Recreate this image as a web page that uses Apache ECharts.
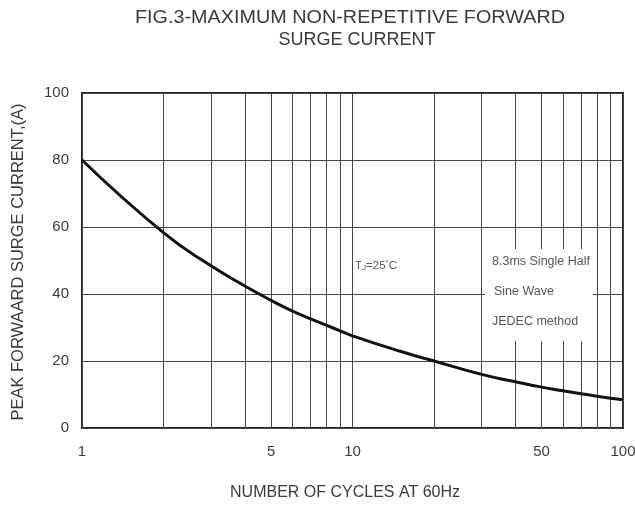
<!DOCTYPE html>
<html>
<head>
<meta charset="utf-8">
<script src="https://cdn.jsdelivr.net/npm/echarts@6/dist/echarts.min.js"></script>
<style>html,body{margin:0;padding:0;background:#fff}#c{width:635px;height:505px}</style>
</head>
<body>
<div id="c"></div>
<script>
// Data
var cycles = [1, 2, 3, 4, 5, 6, 7, 8, 9, 10, 15, 20, 30, 40, 50, 60, 70, 80, 90, 100];
var current = [80, 58.3, 48.4, 42.4, 38.1, 34.9, 32.6, 30.7, 29.0, 27.5, 22.9, 20.0, 16.0, 13.8, 12.2, 11.1, 10.2, 9.5, 8.9, 8.4];
var gridX = [1, 2, 3, 4, 5, 6, 7, 8, 9, 10, 20, 30, 40, 50, 60, 70, 80, 90, 100];
var labelX = [1, 5, 10, 50, 100];
var yTicks = [0, 20, 40, 60, 80, 100];
var titleLines = ['FIG.3-MAXIMUM NON-REPETITIVE FORWARD', 'SURGE CURRENT'];
var xName = 'NUMBER OF CYCLES AT 60Hz';
var yName = 'PEAK FORWAARD SURGE CURRENT,(A)';
var noteLines = ['8.3ms Single Half', 'Sine Wave', 'JEDEC method'];

var chart = echarts.init(document.getElementById('c'), null, {renderer: 'canvas'});
var FONT = 'Liberation Sans, Arial, sans-serif';
var TXT = '#3a3a3a';

var vLines = gridX.map(function (x) {
  var show = labelX.indexOf(x) >= 0;
  return [
    {coord: [x, 0], label: {show: show}},
    {coord: [x, 100]}
  ];
});

var option = {
  animation: false,
  backgroundColor: '#fff',
  grid: {left: 82, right: 12, top: 93, bottom: 77, show: true, borderColor: '#222', borderWidth: 2, backgroundColor: 'transparent'},
  xAxis: {
    type: 'log', logBase: 10, min: 1, max: 100,
    axisLine: {show: false}, axisTick: {show: false}, axisLabel: {show: false},
    splitLine: {show: false}
  },
  yAxis: {
    type: 'value', min: yTicks[0], max: yTicks[yTicks.length - 1], interval: 20,
    axisLine: {show: false}, axisTick: {show: false},
    axisLabel: {color: TXT, fontSize: 15, fontFamily: FONT, margin: 13},
    splitLine: {show: true, lineStyle: {color: '#444', width: 1}}
  },
  graphic: [
    {type: 'text', x: 350, y: 18, scaleX: 1.1, style: {text: titleLines[0], x: 0, y: 0, textAlign: 'center', textVerticalAlign: 'middle', font: '18px ' + FONT, fill: TXT}},
    {type: 'text', x: 357, y: 40, scaleX: 1.0, style: {text: titleLines[1], x: 0, y: 0, textAlign: 'center', textVerticalAlign: 'middle', font: '18px ' + FONT, fill: TXT}},
    {type: 'text', style: {text: xName, x: 345, y: 493, textAlign: 'center', textVerticalAlign: 'middle', font: '16px ' + FONT, fill: TXT}},
    {type: 'text', rotation: Math.PI / 2, x: 18, y: 262, style: {text: yName, x: 0, y: 0, textAlign: 'center', textVerticalAlign: 'middle', font: '16.5px ' + FONT, fill: TXT}},
    {type: 'rect', z: 50, shape: {x: 485, y: 249, width: 108, height: 92}, style: {fill: '#fff'}},
    {type: 'text', z: 51, style: {text: noteLines[0], x: 492, y: 262, textVerticalAlign: 'middle', font: '12.5px ' + FONT, fill: '#555'}},
    {type: 'text', z: 51, style: {text: noteLines[1], x: 494, y: 292, textVerticalAlign: 'middle', font: '12.5px ' + FONT, fill: '#555'}},
    {type: 'text', z: 51, style: {text: noteLines[2], x: 492, y: 322, textVerticalAlign: 'middle', font: '12.5px ' + FONT, fill: '#555'}},
    {type: 'text', z: 51, style: {
      text: 'T{s|J}=25{p|°}C', x: 355, y: 266, textVerticalAlign: 'middle', font: '11.5px ' + FONT, fill: '#555',
      rich: {s: {fontSize: 8, verticalAlign: 'bottom', padding: [4, 0, 0, 0], fill: '#555'}, p: {fontSize: 8, verticalAlign: 'top', padding: [0, 0, 4, 0]}}
    }}
  ],
  series: [
    {
      type: 'line', data: [], silent: true,
      markLine: {
        silent: true, symbol: ['none', 'none'], animation: false,
        lineStyle: {color: '#444', width: 1, type: 'solid'},
        label: {position: 'start', distance: 16, color: TXT, fontSize: 15, fontFamily: FONT, formatter: function (p) { return String(p.data.coord ? p.data.coord[0] : p.value); }},
        emphasis: {disabled: true},
        data: vLines
      }
    },
    {
      type: 'line', smooth: 0.5, showSymbol: false, z: 10,
      data: cycles.map(function (c, i) { return [c, current[i]]; }),
      lineStyle: {color: '#111', width: 3}
    }
  ]
};
chart.setOption(option);
</script>
</body>
</html>
